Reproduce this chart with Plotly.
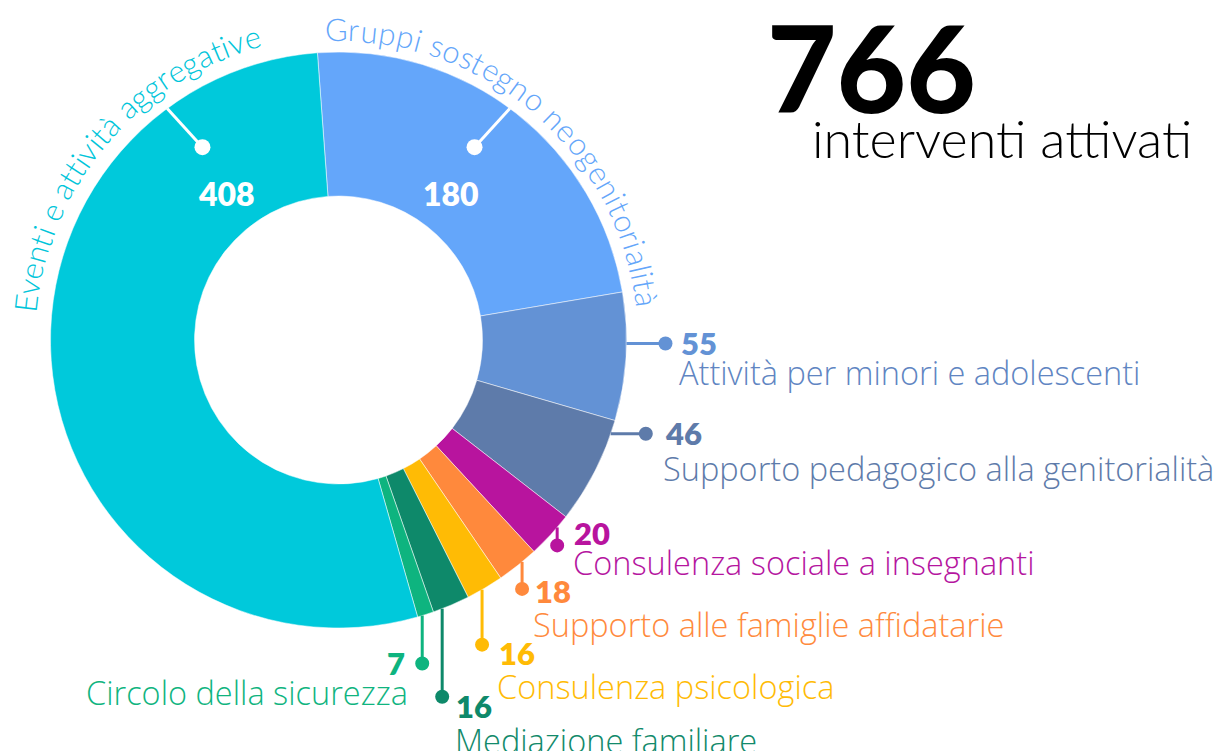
import math
import plotly.graph_objects as go

# ---------------- data ----------------
categories = [
    "Gruppi sostegno neogenitorialità",
    "Attività per minori e adolescenti",
    "Supporto pedagogico alla genitorialità",
    "Consulenza sociale a insegnanti",
    "Supporto alle famiglie affidatarie",
    "Consulenza psicologica",
    "Mediazione familiare",
    "Circolo della sicurezza",
    "Eventi e attività aggregative",
]
values = [180, 55, 46, 20, 18, 16, 16, 7, 408]
colors = ["#64A6FA", "#6392D5", "#5E7BAA", "#B8149E", "#FF893C",
          "#FFBB05", "#0E896A", "#0EB47F", "#00C9DB"]
text_colors = ["#64A6FA", "#6085C2", "#5E7BAA", "#B5169F", "#FF8A3D",
               "#FFBB05", "#128A6B", "#10B47F", "#00C5DA"]
subtitle = "interventi attivati"
total = sum(values)

# ---------------- geometry / style ----------------
W, H = 1219, 751
CX, CY, R = 338.5, 340.0, 288.0
HOLE = 0.5
ROT = -4.2
FONT = "Lato"
LIGHT = "Open Sans"

fig = go.Figure()
fig.add_trace(go.Pie(
    values=values, labels=categories, sort=False, direction="clockwise",
    rotation=ROT, hole=HOLE, textinfo="none", hoverinfo="label+value",
    marker=dict(colors=colors, line=dict(color="white", width=0.5)),
    domain=dict(x=[(CX - R) / W, (CX + R) / W], y=[1 - (CY + R) / H, 1 - (CY - R) / H]),
    showlegend=False,
))
# invisible pixel-space axes for leaders and labels
fig.add_trace(go.Scatter(x=[0, W], y=[0, H], mode="markers", marker=dict(opacity=0),
                         hoverinfo="skip", showlegend=False))

shapes = []
annotations = []


def dot(x, y, color, rad=7):
    shapes.append(dict(type="circle", xref="x", yref="y", x0=x - rad, x1=x + rad,
                       y0=y - rad, y1=y + rad, fillcolor=color, line=dict(width=0),
                       layer="above"))


def line(x0, y0, x1, y1, color):
    shapes.append(dict(type="line", xref="x", yref="y", x0=x0, y0=y0, x1=x1, y1=y1,
                       line=dict(color=color, width=3), layer="above"))


def text(x, y, s, size, color, weight=300, xanchor="left", yanchor="middle", angle=0,
         family=FONT):
    annotations.append(dict(x=x, y=y, xref="x", yref="y", text=s, showarrow=False,
                            xanchor=xanchor, yanchor=yanchor, textangle=angle,
                            font=dict(family=family, size=size, color=color, weight=weight)))


def polar(th, r):
    t = math.radians(th)
    return CX + r * math.sin(t), CY - r * math.cos(t)


# --- inner leaders for the two big slices (index 0 and 8)
for idx, sgn in ((0, 1), (8, -1)):
    x0, y0 = polar(sgn * 36.5, R)
    x1, y1 = polar(sgn * 35.2, 236)
    line(x0, y0, x1, y1, "white")
    dot(x1, y1, "white", 8)
    lx, ly = polar(sgn * 37.4, 185)
    text(lx, ly, str(values[idx]), 32, "white", weight=800, xanchor="center")

# --- outer leaders: (index, leader angle, direction, length, num offset, name offset, anchor)
outer = [
    (1, 90.7, "h", 39, (14, -1), (12, 29), "left"),
    (2, 109.0, "h", 35, (17, -1), (15, 35), "left"),
    (3, 130.6, "v", 18, (15, -12), (14, 17), "left"),
    (4, 140.4, "v", 27, (11, 2), (9, 36), "left"),
    (5, 150.1, "v", 55, (15, 8), (13, 42), "left"),
    (6, 158.9, "v", 88, (12, 9), (11, 44), "left"),
    (7, 163.1, "v", 48, (-15, -1), (-12, 29), "right"),
]
for idx, th, d, ln, noff, toff, anc in outer:
    x0, y0 = polar(th, R)
    if d == "h":
        x1, y1 = x0 + ln, y0
    else:
        x1, y1 = x0, y0 + ln
    line(x0, y0, x1, y1, colors[idx])
    dot(x1, y1, colors[idx], 7)
    text(x1 + noff[0], y1 + noff[1], str(values[idx]), 31, colors[idx], weight=800,
         xanchor=anc)
    text(x1 + toff[0], y1 + toff[1], categories[idx], 32.5, text_colors[idx], weight=300,
         xanchor=anc, family=LIGHT)

# --- curved labels along the outer edge of the two big slices
CW = {' ': 0.26, 'a': 0.50, 'à': 0.50, 'b': 0.56, 'c': 0.47, 'd': 0.56, 'e': 0.52,
      'g': 0.51, 'i': 0.23, 'l': 0.23, 'n': 0.56, 'o': 0.56, 'p': 0.56, 'r': 0.36,
      's': 0.42, 't': 0.34, 'u': 0.56, 'v': 0.49, 'E': 0.57, 'G': 0.69}


def curved(s, th0, th1, r, color, size):
    w = [CW.get(c, 0.5) for c in s]
    tot = sum(w)
    acc = 0.0
    for c, wi in zip(s, w):
        f = (acc + wi / 2) / tot
        acc += wi
        if c == " ":
            continue
        th = th0 + (th1 - th0) * f
        x, y = polar(th, r)
        text(x, y, c, size, color, weight=300, xanchor="center", angle=th)


curved(categories[8], -85.0, -14.5, 315, text_colors[8], 31)
curved(categories[0], -2.5, 84.0, 311, text_colors[0], 31)

# --- headline
text(765, 67, str(total), 120, "#000000", weight=900)
text(810, 138, subtitle, 52, "#000000", weight=300)

fig.update_layout(
    width=W, height=H, margin=dict(l=0, r=0, t=0, b=0),
    paper_bgcolor="white", plot_bgcolor="rgba(0,0,0,0)",
    xaxis=dict(range=[0, W], visible=False, fixedrange=True),
    yaxis=dict(range=[H, 0], visible=False, fixedrange=True),
    shapes=shapes, annotations=annotations, showlegend=False,
)
fig.write_html("out.html", config={"displayModeBar": False},
               post_script="document.body.style.margin='0px';"
                           "document.body.style.overflow='hidden';")
